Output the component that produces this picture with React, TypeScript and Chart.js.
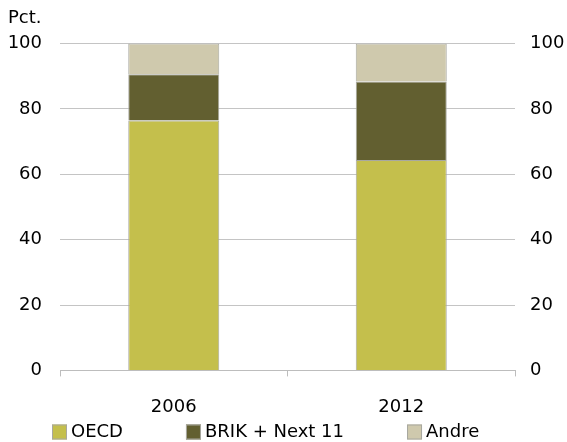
import React, { useEffect, useRef } from "react";
import { Chart, registerables } from "chart.js";

Chart.register(...registerables);

const categories = ["2006", "2012"];
const oecd = [76.5, 64.4];
const brik = [14.1, 24.0];
const andre = [9.4, 11.6];
const seriesNames = ["OECD", "BRIK + Next 11", "Andre"];
const seriesColors = ["#c4bf4c", "#625f30", "#cfc9ad"];
const yTicks = [0, 20, 40, 60, 80, 100];

const FONT = "DejaVu Sans";

const legendPlugin = {
  id: "customLegend",
  afterDraw(chart: any) {
    const ctx = chart.ctx;
    ctx.save();
    ctx.font = `18px "${FONT}"`;
    ctx.textBaseline = "middle";
    ctx.textAlign = "left";
    const y = 432;
    let x = chart.chartArea.left - 8;
    const box = 15;
    const gap = 63;
    chart.data.datasets.forEach((ds: any) => {
      ctx.fillStyle = ds.backgroundColor;
      ctx.fillRect(x, y - box / 2, box, box);
      ctx.strokeStyle = "#a8a8a0";
      ctx.lineWidth = 1;
      ctx.strokeRect(x + 0.5, y - box / 2 + 0.5, box - 1, box - 1);
      ctx.fillStyle = "#000";
      ctx.fillText(ds.label, x + box + 4, y);
      x += box + 4 + ctx.measureText(ds.label).width + gap;
    });
    ctx.restore();
  },
};

export default function App() {
  const ref = useRef<HTMLCanvasElement | null>(null);
  useEffect(() => {
    document.body.style.margin = "0";
    const font = { family: FONT, size: 18 };
    const chart = new Chart(ref.current!, {
      type: "bar",
      data: {
        labels: categories,
        datasets: seriesNames.map((name, i) => ({
          label: name,
          data: [oecd, brik, andre][i],
          backgroundColor: seriesColors[i],
          borderColor: "#a8a8a0",
          borderWidth: 1,
        })),
      },
      options: {
        animation: false,
        responsive: false,
        layout: { padding: { left: 8, right: 3, top: 0, bottom: 4 } },
        datasets: { bar: { barPercentage: 0.4, categoryPercentage: 1 } },
        plugins: {
          title: {
            display: true,
            text: "Pct.",
            align: "start",
            color: "#000",
            font: { family: FONT, size: 18, weight: "normal" },
            padding: { top: 8, bottom: 14 },
          },
          legend: { display: false },
          tooltip: { enabled: false },
        },
        scales: {
          x: {
            stacked: true,
            grid: { display: true, drawOnChartArea: false, drawTicks: true, tickLength: 6, color: "#bdbdbd", offset: true },
            border: { display: true, color: "#bdbdbd" },
            ticks: { color: "#000", font, padding: 20 },
          },
          y: {
            stacked: true,
            min: 0,
            max: 100,
            afterBuildTicks: (s: any) => { s.ticks = yTicks.map((v) => ({ value: v })); },
            afterFit: (s: any) => { s.width = 52; },
            grid: { color: "#c4c4c4", drawTicks: false },
            border: { display: false },
            ticks: { color: "#000", font, padding: 18 },
          },
          y2: {
            position: "right",
            min: 0,
            max: 100,
            afterBuildTicks: (s: any) => { s.ticks = yTicks.map((v) => ({ value: v })); },
            afterFit: (s: any) => { s.width = 49; },
            grid: { display: false, drawTicks: false },
            border: { display: false },
            ticks: { color: "#000", font, padding: 15 },
          },
        },
      },
      plugins: [legendPlugin],
    });
    return () => chart.destroy();
  }, []);
  return <canvas ref={ref} width={567} height={442} />;
}
